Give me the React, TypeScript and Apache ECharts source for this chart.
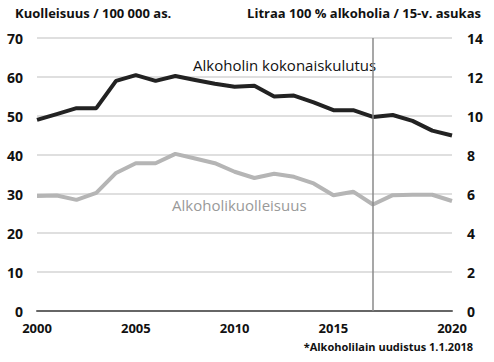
import React, { useEffect, useRef } from "react";
import * as echarts from "echarts";

const years = ["2000","2001","2002","2003","2004","2005","2006","2007","2008","2009","2010","2011","2012","2013","2014","2015","2016","2017","2018","2019","2020","2021"];
// Alkoholin kokonaiskulutus, litraa 100 % alkoholia / 15-v. asukas (right axis)
const consumption = [9.8, 10.1, 10.4, 10.4, 11.8, 12.1, 11.8, 12.05, 11.85, 11.65, 11.5, 11.55, 11.0, 11.05, 10.7, 10.3, 10.3, 9.95, 10.05, 9.75, 9.25, 9.0];
// Alkoholikuolleisuus / 100 000 as. (left axis)
const mortality = [29.5, 29.6, 28.5, 30.3, 35.4, 37.9, 37.9, 40.3, 39.1, 37.9, 35.7, 34.1, 35.2, 34.4, 32.7, 29.7, 30.6, 27.3, 29.7, 29.8, 29.8, 28.2];
const xTickLabels: Record<number, string> = { 0: "2000", 5: "2005", 10: "2010", 15: "2015", 21: "2020" };
const reformYear = "2017";

const FONT = "'Open Sans', 'Noto Sans', sans-serif";

export default function App() {
  const ref = useRef<HTMLDivElement>(null);
  useEffect(() => {
    if (!ref.current) return;
    const chart = echarts.init(ref.current, null, { renderer: "svg" });
    chart.setOption({
      animation: false,
      backgroundColor: "#ffffff",
      textStyle: { fontFamily: FONT },
      grid: { left: 37, right: 42, top: 38, bottom: 51 },
      xAxis: {
        type: "category",
        data: years,
        boundaryGap: false,
        axisLine: { show: true, lineStyle: { color: "#666666", width: 2 } },
        axisTick: { show: false },
        splitLine: { show: false },
        axisLabel: {
          interval: (i: number) => xTickLabels[i] !== undefined,
          formatter: (_v: string, i: number) => xTickLabels[i] ?? "",
          color: "#111",
          fontWeight: "bold",
          fontSize: 13,
          fontFamily: FONT,
          margin: 10,
          lineHeight: 14,
        },
      },
      yAxis: [
        {
          type: "value",
          min: 0,
          max: 70,
          interval: 10,
          axisLine: { show: false },
          axisTick: { show: false },
          splitLine: { show: true, lineStyle: { color: "#d4d4d4", width: 1.5 } },
          axisLabel: { color: "#111", fontWeight: "bold", fontSize: 14, fontFamily: FONT, margin: 14 },
        },
        {
          type: "value",
          min: 0,
          max: 14,
          interval: 2,
          position: "right",
          axisLine: { show: false },
          axisTick: { show: false },
          splitLine: { show: false },
          axisLabel: { color: "#111", fontWeight: "bold", fontSize: 14, fontFamily: FONT, margin: 15 },
        },
      ],
      series: [
        {
          name: "Alkoholikuolleisuus",
          type: "line",
          yAxisIndex: 0,
          data: mortality,
          showSymbol: false,
          lineStyle: { color: "#b5b5b5", width: 4 },
          z: 3,
          markLine: {
            silent: true,
            symbol: "none",
            label: { show: false },
            lineStyle: { color: "#8a8a8a", width: 1.5, type: "solid" },
            data: [{ xAxis: reformYear }],
            z: 5,
          },
        },
        {
          name: "Alkoholin kokonaiskulutus",
          type: "line",
          yAxisIndex: 1,
          data: consumption,
          showSymbol: false,
          lineStyle: { color: "#222222", width: 4 },
          z: 4,
        },
      ],
      graphic: [
        { type: "text", left: 15, top: 6, style: { text: "Kuolleisuus / 100 000 as.", fontFamily: FONT, fontWeight: "bold", fontSize: 13, fill: "#111" } },
        { type: "text", right: 13, top: 6, style: { text: "Litraa 100 % alkoholia / 15-v. asukas", fontFamily: FONT, fontWeight: "bold", fontSize: 13, fill: "#111" } },
        { type: "text", left: 193, top: 57, style: { text: "Alkoholin kokonaiskulutus", fontFamily: FONT, fontSize: 15, fill: "#111" } },
        { type: "text", left: 172, top: 197, style: { text: "Alkoholikuolleisuus", fontFamily: FONT, fontSize: 15, fill: "#999999" } },
        { type: "text", right: 21, top: 341, style: { text: "*Alkoholilain uudistus 1.1.2018", fontFamily: FONT, fontWeight: "bold", fontSize: 11, fill: "#111" } },
      ],
    });
    return () => chart.dispose();
  }, []);
  return <div ref={ref} style={{ position: "absolute", left: 0, top: 0, width: 494, height: 362 }} />;
}
